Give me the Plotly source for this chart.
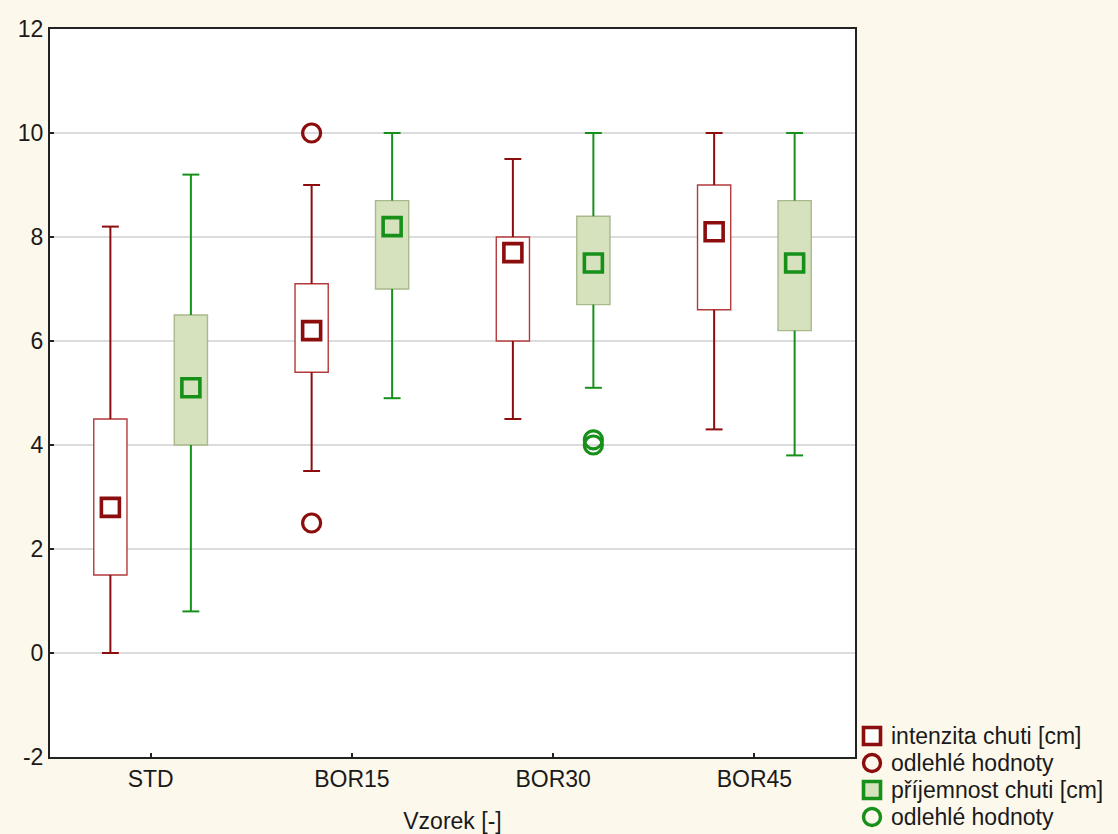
import plotly.graph_objects as go

# Samples on the x axis
samples = ["STD", "BOR15", "BOR30", "BOR45"]

# Taste intensity [cm] – box statistics per sample
int_low = [0.0, 3.5, 4.5, 4.3]
int_q1 = [1.5, 5.4, 6.0, 6.6]
int_mid = [2.8, 6.2, 7.7, 8.1]
int_q3 = [4.5, 7.1, 8.0, 9.0]
int_high = [8.2, 9.0, 9.5, 10.0]
int_out_x = [1, 1]
int_out_y = [10.0, 2.5]

# Taste pleasantness [cm] – box statistics per sample
pl_low = [0.8, 4.9, 5.1, 3.8]
pl_q1 = [4.0, 7.0, 6.7, 6.2]
pl_mid = [5.1, 8.2, 7.5, 7.5]
pl_q3 = [6.5, 8.7, 8.4, 8.7]
pl_high = [9.2, 10.0, 10.0, 10.0]
pl_out_x = [2, 2]
pl_out_y = [4.1, 4.0]

y_ticks = [-2, 0, 2, 4, 6, 8, 10, 12]
y_labels = ["-2", "0", "2", "4", "6", "8", "10", "12"]

legend_labels = ["intenzita chuti [cm]", "odlehlé hodnoty",
                 "příjemnost chuti [cm]", "odlehlé hodnoty"]

RED = "#8b0d0d"
RED_EDGE = "#b33a3a"
GREEN = "#17901a"
GREEN_FILL = "#d6e2bd"
GREEN_EDGE = "#a8b98c"
BG = "#fdf8ec"
FONT = "Liberation Sans, Arial, sans-serif"
FS = 23

W, H = 1118, 834
ML, MR, MT, MB = 50, 263, 29, 77
PW, PH = W - ML - MR, H - MT - MB

SHIFT = 0.2
BOX_W = 0.165
CAP = 0.042

fig = go.Figure()


def add_series(offset, low, q1, mid, q3, high, out_x, out_y,
               line_col, fill_col, edge_col):
    xs = [i + offset for i in range(len(samples))]
    # boxes (interquartile range)
    fig.add_trace(go.Bar(
        x=xs, base=q1, y=[b - a for a, b in zip(q1, q3)], width=BOX_W,
        marker=dict(color=fill_col, line=dict(color=edge_col, width=1.4)),
        hoverinfo="skip"))
    # whiskers with caps
    wx, wy = [], []
    for x, lo, a, b, hi in zip(xs, low, q1, q3, high):
        wx += [x, x, None, x - CAP, x + CAP, None,
               x, x, None, x - CAP, x + CAP, None]
        wy += [lo, a, None, lo, lo, None,
               b, hi, None, hi, hi, None]
    fig.add_trace(go.Scatter(
        x=wx, y=wy, mode="lines", line=dict(color=line_col, width=2),
        hoverinfo="skip"))
    # central value marker
    fig.add_trace(go.Scatter(
        x=xs, y=mid, mode="markers",
        marker=dict(symbol="square", size=18, color=fill_col,
                    line=dict(color=line_col, width=3.6))))
    # outliers
    fig.add_trace(go.Scatter(
        x=[x + offset for x in out_x], y=out_y, mode="markers",
        marker=dict(symbol="circle", size=18, color="rgba(0,0,0,0)",
                    line=dict(color=line_col, width=3.2))))


add_series(-SHIFT, int_low, int_q1, int_mid, int_q3, int_high,
           int_out_x, int_out_y, RED, "white", RED_EDGE)
add_series(SHIFT, pl_low, pl_q1, pl_mid, pl_q3, pl_high,
           pl_out_x, pl_out_y, GREEN, GREEN_FILL, GREEN_EDGE)


# Legend in the lower right corner, built from shapes and text
def px_x(px):
    return (px - ML) / PW


def px_y(py):
    return (H - MB - py) / PH


legend_style = [("rect", RED, "white"), ("circle", RED, "rgba(0,0,0,0)"),
                ("rect", GREEN, GREEN_FILL), ("circle", GREEN, "rgba(0,0,0,0)")]
row_y = [736, 763, 790, 817]
mx = 872
for (kind, col, fill), yc, label in zip(legend_style, row_y, legend_labels):
    half = 8.5
    fig.add_shape(type=kind, xref="paper", yref="paper",
                  x0=px_x(mx - half), x1=px_x(mx + half),
                  y0=px_y(yc + half), y1=px_y(yc - half),
                  line=dict(color=col, width=3.6 if kind == "rect" else 3.4),
                  fillcolor=fill, layer="above")
    fig.add_annotation(x=px_x(889), y=px_y(yc), xref="paper", yref="paper",
                       text=label, showarrow=False, xanchor="left",
                       yanchor="middle",
                       font=dict(family=FONT, size=FS, color="#1a1a1a"))

fig.update_layout(
    width=W, height=H,
    margin=dict(l=ML, r=MR, t=MT, b=MB, autoexpand=False),
    paper_bgcolor=BG, plot_bgcolor="white",
    barmode="overlay", showlegend=False,
    font=dict(family=FONT, size=FS, color="#1a1a1a"),
    xaxis=dict(
        range=[-0.5, 3.5], tickmode="array",
        tickvals=list(range(len(samples))), ticktext=samples,
        tickfont=dict(size=FS),
        showgrid=False, zeroline=False, automargin=False,
        showline=True, linecolor="#222", linewidth=2, mirror=True,
        ticks="inside", ticklen=4, tickcolor="#222", tickwidth=2,
        title=dict(text="Vzorek [-]", standoff=24, font=dict(size=FS)),
    ),
    yaxis=dict(
        range=[-2, 12], tickmode="array", tickvals=y_ticks,
        ticktext=y_labels, tickfont=dict(size=FS),
        showgrid=True, gridcolor="#dcdcdc", gridwidth=2, zeroline=False,
        automargin=False,
        showline=True, linecolor="#222", linewidth=2, mirror=True,
        ticks="inside", ticklen=4, tickcolor="#222", tickwidth=2,
    ),
)

fig.write_html("out.html")
